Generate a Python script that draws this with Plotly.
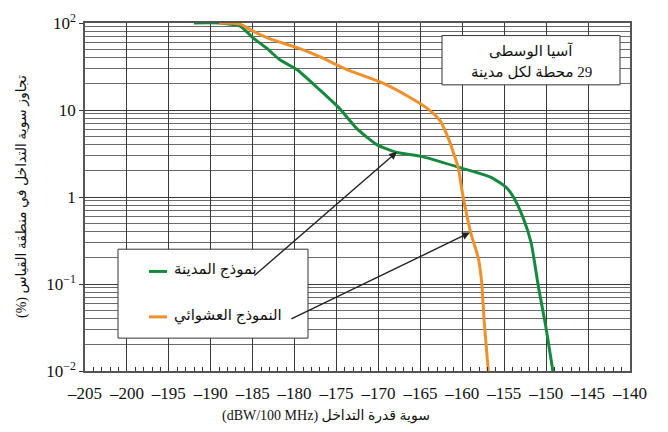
import numpy as np
import plotly.graph_objects as go

# Interference level (dBW/100 MHz) vs. percentage of measurement area exceeded
city_x = [-192, -189, -186.5, -185, -183.3, -181.8, -179.7, -177, -174.6, -172.6,
          -170.2, -167.8, -165, -160.1, -156.7, -154.8, -153.9, -152.7, -151.8,
          -150.9, -150.1, -149.2]
city_y = [100, 100, 92, 68, 51, 38, 29, 17, 10.3, 6.15,
          4.0, 3.25, 2.95, 2.15, 1.7, 1.3, 1.0, 0.56, 0.30,
          0.09, 0.035, 0.01]

random_x = [-189, -186.5, -185, -183, -179.7, -177, -173.7, -169.8, -166.5, -164.1,
            -162.6, -161.5, -160.9, -160.5, -159.9, -159.0, -158.1, -157.7, -157.4, -156.9]
random_y = [100, 97, 81, 66, 52, 41, 29, 21, 14.4, 10.3,
            7.4, 4.3, 2.9, 2.2, 1.0, 0.39, 0.2, 0.107, 0.038, 0.01]

x_ticks = list(range(-205, -139, 5))
x_labels = ["\u2013" + str(abs(v)) for v in x_ticks]
y_ticks = [0.01, 0.1, 1, 10, 100]
y_labels = ["10<sup>\u22122</sup>", "10<sup>\u22121</sup>", "1", "10", "10<sup>2</sup>"]

series_names = ["نموذج المدينة", "النموذج العشوائي"]
series_colors = ["#15893d", "#f0902c"]
box_lines = ["آسيا الوسطى", "29 محطة لكل مدينة"]
x_title = "سوية قدرة التداخل (dBW/100 MHz)"
y_title = "تجاوز سوية التداخل في منطقة القياس (%)"

# arrow heads on each curve (data) and arrow tails (pixel offsets)
arrow_heads = [(-167.8, 3.3), (-159.1, 0.39)]
arrow_tails = [(-144, 125), (-180, 87)]

RLE, PDF = "\u202b", "\u202c"
SERIF = "Liberation Serif"
MIXED = "Liberation Serif, DejaVu Sans"

minor_y = [m * 10.0 ** e for e in range(-2, 2) for m in range(2, 10)]

fig = go.Figure()
for xs, ys, name, col in [(city_x, city_y, series_names[0], series_colors[0]),
                          (random_x, random_y, series_names[1], series_colors[1])]:
    fig.add_trace(go.Scatter(x=xs, y=ys, mode="lines", name=name,
                             line=dict(color=col, width=3, shape="spline", smoothing=0.6),
                             showlegend=False))

fig.update_layout(
    width=668, height=432,
    margin=dict(l=85, r=38, t=11, b=61),
    paper_bgcolor="white", plot_bgcolor="white",
    font=dict(family=SERIF, size=17, color="#111"),
    showlegend=False,
)
fig.update_xaxes(
    range=[-205, -140], tickvals=x_ticks, ticktext=x_labels,
    showgrid=True, gridcolor="#3a3a3a", gridwidth=1,
    showline=True, linecolor="#555", linewidth=1.5, mirror=True,
    ticks="inside", ticklen=5, tickcolor="#333", ticklabelstandoff=6,
    minor=dict(dtick=1, ticks="inside", ticklen=4, tickcolor="#333", showgrid=False),
    zeroline=False, tickfont=dict(family=SERIF, size=17, color="#111"),
)
fig.update_yaxes(
    type="log", range=[-2, 2], tickvals=y_ticks, ticktext=y_labels,
    showgrid=True, gridcolor="#3a3a3a", gridwidth=1,
    showline=True, linecolor="#555", linewidth=1.5, mirror=True,
    ticks="outside", ticklen=4, tickcolor="#333",
    minor=dict(tickvals=minor_y, showgrid=True, gridcolor="#6a6a6a", gridwidth=1, ticks=""),
    zeroline=False, tickfont=dict(family=SERIF, size=17, color="#111"),
)

def px_x(p):
    return (p - 85) / 545.0

def px_y(p):
    return (371 - p) / 360.0

shapes = []
annotations = []

# series key box
shapes.append(dict(type="rect", xref="paper", yref="paper",
                   x0=px_x(118), x1=px_x(308), y0=px_y(337), y1=px_y(245),
                   line=dict(color="#333", width=1), fillcolor="white", layer="above"))
for (name, col, ypix) in zip(series_names, series_colors, [268, 315]):
    shapes.append(dict(type="line", xref="paper", yref="paper",
                       x0=px_x(149), x1=px_x(167), y0=px_y(ypix), y1=px_y(ypix),
                       line=dict(color=col, width=3), layer="above"))
    annotations.append(dict(xref="paper", yref="paper", x=px_x(172), y=px_y(ypix - 1),
                            text=RLE + name + PDF, showarrow=False, xanchor="left",
                            yanchor="middle", font=dict(family=MIXED, size=15, color="#111")))

# region box
shapes.append(dict(type="rect", xref="paper", yref="paper",
                   x0=px_x(442), x1=px_x(620), y0=px_y(75), y1=px_y(24),
                   line=dict(color="#333", width=1), fillcolor="white", layer="above"))
for line_txt, ypix in zip(box_lines, [40, 62]):
    annotations.append(dict(xref="paper", yref="paper", x=px_x(531), y=px_y(ypix),
                            text=RLE + line_txt + PDF, showarrow=False, xanchor="center",
                            yanchor="middle", font=dict(family=MIXED, size=15, color="#111")))

# arrows from key labels to the curves
for (hx, hy), (ax, ay) in zip(arrow_heads, arrow_tails):
    annotations.append(dict(x=hx, y=np.log10(hy), xref="x", yref="y", text="",
                            showarrow=True, arrowhead=2, arrowsize=1.1, arrowwidth=1.4,
                            arrowcolor="#222", ax=ax, ay=ay, standoff=0))

# axis titles
annotations.append(dict(xref="paper", yref="paper", x=px_x(326), y=px_y(418),
                        text=RLE + x_title + PDF, showarrow=False, xanchor="center",
                        yanchor="middle", font=dict(family=MIXED, size=14, color="#111")))
annotations.append(dict(xref="paper", yref="paper", x=px_x(22), y=px_y(191),
                        text=RLE + y_title + PDF, showarrow=False, textangle=-90,
                        xanchor="center", yanchor="middle",
                        font=dict(family=MIXED, size=14, color="#111")))

fig.update_layout(shapes=shapes, annotations=annotations)
fig.write_html("out.html")
